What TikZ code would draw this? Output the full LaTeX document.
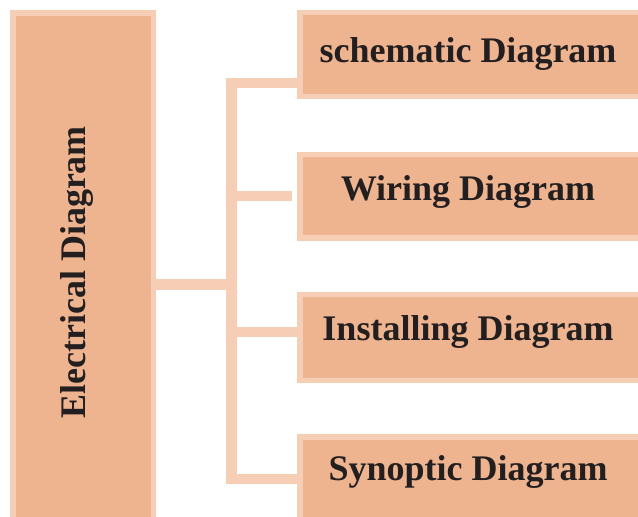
\documentclass[tikz,border=0pt]{standalone}
\usepackage{fontspec}
\setmainfont{Liberation Serif}
\usetikzlibrary{backgrounds}
\definecolor{boxfill}{HTML}{EEB38F}
\definecolor{boxedge}{HTML}{F6CEB5}
\definecolor{inkdark}{HTML}{231F20}
\tikzset{%
  every box/.style={
    rectangle,
    draw=boxedge,
    fill=boxfill,
    line width=5.5pt,
    inner sep=0pt
  },
  box text/.style={
    anchor=base,
    inner sep=0pt,
    text=inkdark,
    font=\fontsize{36}{42}\selectfont\bfseries
  },
  link/.style={
    draw=boxedge,
    line width=10.5pt
  },
}

\begin{document}
\begin{tikzpicture}[x=1pt,y=-1pt]
  \useasboundingbox (0,0) rectangle (638,517);
  % boxes
  \node [every box, minimum width=140.5pt, minimum height=522pt] (elec) at (83.25,273.9) {};
  \node [every box, minimum width=345pt, minimum height=83.8pt] (box-1) at (472.5,54.6) {};
  \node [every box, minimum width=345pt, minimum height=83.5pt] (box-2) at (472.5,196.3) {};
  \node [every box, minimum width=345pt, minimum height=86pt] (box-3) at (472.5,337.5) {};
  \node [every box, minimum width=345pt, minimum height=88pt] (box-4) at (472.5,481) {};
  % labels
  \node [box text, rotate=90] (elec-t) at (85,272.5) {Electrical Diagram};
  \node [box text] (txt-1) at (468,62) {schematic Diagram};
  \node [box text] (txt-2) at (468,200) {Wiring Diagram};
  \node [box text] (txt-3) at (468,340) {Installing Diagram};
  \node [box text] (txt-4) at (468,480) {Synoptic Diagram};
  % bus
  \coordinate (bus-0) at (231.5,284.5);
  \coordinate (bus-1) at (231.5,83);
  \coordinate (bus-2) at (231.5,196);
  \coordinate (bus-3) at (231.5,332);
  \coordinate (bus-4) at (231.5,479);
\begin{scope}[on background layer]
\draw [link] (bus-1 -| box-1.west) -- (bus-1) -- (bus-4) -- (bus-4 -| box-4.west);
\draw [link] (elec.east |- bus-0) -- (bus-0);
\draw [link, shorten >=5pt] (bus-2) -- (bus-2 -| box-2.west);
\draw [link] (bus-3) -- (bus-3 -| box-3.west);
\end{scope}
\end{tikzpicture}
\end{document}
